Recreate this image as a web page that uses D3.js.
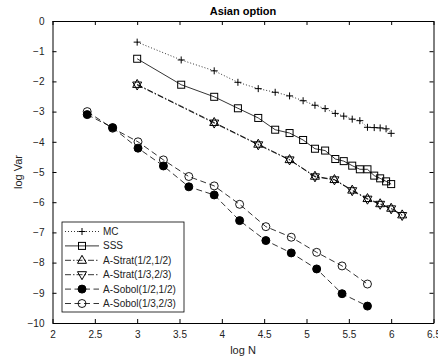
<!DOCTYPE html>
<html>
<head>
<meta charset="utf-8">
<script src="https://cdn.jsdelivr.net/npm/d3@7"></script>
<style>
  body { margin: 0; background: #fff; }
  text { font-family: "Liberation Sans", Arial, sans-serif; }
</style>
</head>
<body>
<div id="chart"></div>
<script>
// sample sizes (log10 N)
var xGrid = [3.0, 3.52, 3.91, 4.19, 4.43, 4.63, 4.80, 4.96, 5.10, 5.22, 5.34, 5.44, 5.54, 5.63, 5.72, 5.80, 5.87, 5.94, 6.00];
var mcVals = [-0.70, -1.29, -1.65, -2.03, -2.24, -2.36, -2.48, -2.64, -2.79, -2.90, -3.06, -3.15, -3.25, -3.30, -3.52, -3.53, -3.54, -3.57, -3.72];
var sssVals = [-1.25, -2.11, -2.51, -2.89, -3.21, -3.60, -3.71, -3.94, -4.23, -4.29, -4.57, -4.64, -4.79, -4.91, -4.91, -5.12, -5.21, -5.31, -5.40];

var stratX = [3.0, 3.91, 4.43, 4.80, 5.10, 5.33, 5.54, 5.72, 5.87, 6.00, 6.13];
var strat1Vals = [-2.10, -3.36, -4.08, -4.59, -5.14, -5.25, -5.60, -5.88, -6.05, -6.20, -6.42];
var strat2Vals = [-2.12, -3.38, -4.10, -4.60, -5.16, -5.26, -5.62, -5.90, -6.07, -6.22, -6.44];

var sobolX = [2.41, 2.71, 3.01, 3.31, 3.61, 3.91, 4.21, 4.52, 4.82, 5.12, 5.42, 5.72];
var sobol1Vals = [-3.10, -3.53, -4.21, -4.80, -5.49, -5.76, -6.61, -7.27, -7.68, -8.21, -9.03, -9.44];
var sobol2Vals = [-3.00, -3.55, -4.00, -4.60, -5.15, -5.46, -6.07, -6.81, -7.16, -7.66, -8.11, -8.71];

var xTicks = [2, 2.5, 3, 3.5, 4, 4.5, 5, 5.5, 6, 6.5];
var yTicks = [0, -1, -2, -3, -4, -5, -6, -7, -8, -9, -10];

var series = [
  {name: "MC", x: xGrid, y: mcVals, dash: "1,2", marker: "plus"},
  {name: "SSS", x: xGrid, y: sssVals, dash: null, marker: "square"},
  {name: "A-Strat(1/2,1/2)", x: stratX, y: strat1Vals, dash: "6,2,1.5,2", marker: "triUp"},
  {name: "A-Strat(1/3,2/3)", x: stratX, y: strat2Vals, dash: "6,2,1.5,2", marker: "triDown"},
  {name: "A-Sobol(1/2,1/2)", x: sobolX, y: sobol1Vals, dash: "6,3.5", marker: "dot"},
  {name: "A-Sobol(1/3,2/3)", x: sobolX, y: sobol2Vals, dash: "6,3.5", marker: "circle"}
];

var width = 438, height = 362;
var margin = {top: 21, right: 4.5, bottom: 39, left: 52.5};
var w = width - margin.left - margin.right,
    h = height - margin.top - margin.bottom;

var svg = d3.select("#chart")
  .append("svg")
  .attr("width", width)
  .attr("height", height);

var g = svg.append("g")
  .attr("transform", "translate(" + margin.left + "," + margin.top + ")");

var x = d3.scaleLinear().domain([2, 6.5]).range([0, w]);
var y = d3.scaleLinear().domain([-10, 0]).range([h, 0]);

// axes, ticks pointing inward on all four sides
g.append("g")
  .attr("transform", "translate(0," + h + ")")
  .call(d3.axisBottom(x).tickValues(xTicks).tickSizeInner(-4).tickSizeOuter(0).tickPadding(8).tickFormat(d3.format("")));
g.append("g")
  .call(d3.axisTop(x).tickValues(xTicks).tickSizeInner(-4).tickSizeOuter(0).tickFormat(""));
g.append("g")
  .call(d3.axisLeft(y).tickValues(yTicks).tickSizeInner(-4).tickSizeOuter(0).tickPadding(8).tickFormat(d3.format("")));
g.append("g")
  .attr("transform", "translate(" + w + ",0)")
  .call(d3.axisRight(y).tickValues(yTicks).tickSizeInner(-4).tickSizeOuter(0).tickFormat(""));

g.selectAll(".domain").attr("stroke", "#000").attr("stroke-width", 1);
g.selectAll(".tick line").attr("stroke", "#000");
g.selectAll(".tick text").attr("font-size", 10).attr("fill", "#222")
  .attr("font-family", "Liberation Sans, Arial, sans-serif");

// draw one marker into a selection
function drawMarker(sel, type, s) {
  if (type == "plus") {
    sel.append("path").attr("d", "M" + (-s) + ",0H" + s + "M0," + (-s) + "V" + s)
      .attr("stroke", "#000").attr("stroke-width", 1).attr("fill", "none");
  } else if (type == "square") {
    sel.append("rect").attr("x", -3.5).attr("y", -3.5).attr("width", 7).attr("height", 7)
      .attr("stroke", "#000").attr("stroke-width", 1).attr("fill", "none");
  } else if (type == "triUp") {
    sel.append("path").attr("d", "M0,-5L4.5,3L-4.5,3Z")
      .attr("stroke", "#000").attr("stroke-width", 1).attr("fill", "none");
  } else if (type == "triDown") {
    sel.append("path").attr("d", "M0,5L4.5,-3L-4.5,-3Z")
      .attr("stroke", "#000").attr("stroke-width", 1).attr("fill", "none");
  } else if (type == "dot") {
    sel.append("circle").attr("r", 4).attr("fill", "#000").attr("stroke", "#000");
  } else if (type == "circle") {
    sel.append("circle").attr("r", 4).attr("fill", "none").attr("stroke", "#000").attr("stroke-width", 0.9);
  }
}

var line = d3.line()
  .x(function(d) { return x(d[0]); })
  .y(function(d) { return y(d[1]); });

series.forEach(function(s) {
  var pts = s.x.map(function(v, i) { return [v, s.y[i]]; });
  g.append("path")
    .datum(pts)
    .attr("d", line)
    .attr("fill", "none")
    .attr("stroke", "#000")
    .attr("stroke-width", 0.8)
    .attr("stroke-dasharray", s.dash);
  pts.forEach(function(p) {
    var m = g.append("g").attr("transform", "translate(" + x(p[0]) + "," + y(p[1]) + ")");
    drawMarker(m, s.marker, 3.5);
  });
});

// title and labels
svg.append("text")
  .attr("x", margin.left + w / 2).attr("y", 15)
  .attr("text-anchor", "middle")
  .attr("font-size", 11).attr("font-weight", "bold")
  .text("Asian option");

svg.append("text")
  .attr("x", margin.left + w / 2).attr("y", 354)
  .attr("text-anchor", "middle")
  .attr("font-size", 11)
  .attr("fill", "#222")
  .text("log N");

svg.append("text")
  .attr("transform", "translate(22," + (margin.top + h / 2) + ")rotate(-90)")
  .attr("text-anchor", "middle")
  .attr("font-size", 11)
  .attr("fill", "#222")
  .text("log Var");

// legend
var legend = svg.append("g").attr("transform", "translate(62,222)");
legend.append("rect")
  .attr("width", 122).attr("height", 90)
  .attr("fill", "#fff").attr("stroke", "#000").attr("stroke-width", 0.8);

series.forEach(function(s, i) {
  var ly = 9.5 + i * 14.4;
  legend.append("line")
    .attr("x1", 3).attr("x2", 37).attr("y1", ly).attr("y2", ly)
    .attr("stroke", "#000").attr("stroke-width", 0.8)
    .attr("stroke-dasharray", s.dash);
  var m = legend.append("g").attr("transform", "translate(20," + ly + ")");
  drawMarker(m, s.marker, 3.5);
  legend.append("text")
    .attr("x", 41).attr("y", ly + 3.5)
    .attr("font-size", 10)
    .attr("fill", "#222")
    .text(s.name);
});
</script>
</body>
</html>
